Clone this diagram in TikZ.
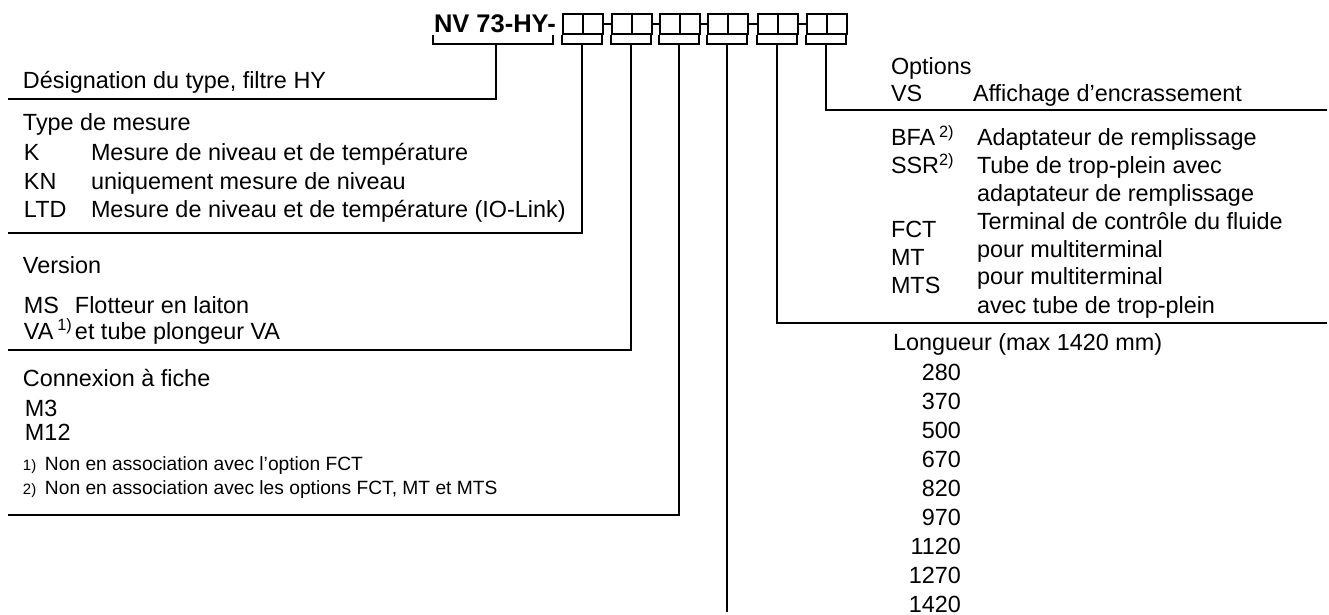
\documentclass[tikz,border=0pt]{standalone}
\usepackage{fontspec}
\setmainfont{Liberation Sans}
\usetikzlibrary{positioning}

\begin{document}
\begin{tikzpicture}[x=0.5pt, y=-0.5pt, line width=1pt,
	txt/.style={anchor=base west, inner sep=0pt, font=\fontsize{11.7}{14}\selectfont},
	num/.style={anchor=base east, inner sep=0pt, font=\fontsize{11.7}{14}\selectfont},
	fn/.style={anchor=base west, inner sep=0pt, font=\fontsize{9.6}{11}\selectfont},
	fnmark/.style={anchor=base west, inner sep=0pt, font=\fontsize{7.5}{8}\selectfont}]
	\useasboundingbox (0,0) rectangle (1329,615);
	% type code
	\node[anchor=base west, inner sep=0pt, font=\bfseries\fontsize{12.75}{15}\selectfont] (nv) at (433,33) {NV 73-HY-};
	\draw (433,35) |- (553,44) -- (553,35);
	\coordinate (b0) at (496,44);
	\foreach \i/\x in {1/562,2/611,3/659,4/707,5/757,6/806} {
		\node[draw, anchor=north west, inner sep=0pt, minimum width=20pt, minimum height=10pt] (f\i) at (\x,13) {};
		\draw (f\i.north) -- (f\i.south);
		\draw (\x,35) |- (\x+40,44) -- (\x+40,35);
		\coordinate (b\i) at (\x+20,44);
	}
	\foreach \a/\b in {1/2,2/3,3/4,4/5,5/6}
		\draw[line width=1.2pt] (f\a.east) -- (f\b.west);
	% leader lines
	\foreach \i/\xe/\ye in {0/8/99,1/8/233,2/8/350,3/8/515,5/1327/323,6/1327/110} {
		\coordinate (e\i) at (\xe,\ye);
		\draw (b\i) |- (e\i);
	}
	\coordinate (e4) at (727,612);
	\draw (b4) -- (e4);
	% left blocks
	\node[txt] (desig) at (22,89) {Désignation du type, filtre HY};
	\node[txt] (mes) at (22,131) {Type de mesure};
	\node[txt] (mK) at (23,161) {K};
	\node[txt] (mKN) at (23,190) {KN};
	\node[txt] (mLTD) at (23,218) {LTD};
	\node[txt] (dK) at (90,161) {Mesure de niveau et de température};
	\node[txt] (dKN) at (90,190) {uniquement mesure de niveau};
	\node[txt] (dLTD) at (90,218) {Mesure de niveau et de température (IO-Link)};
	\node[txt] (ver) at (22,273) {Version};
	\node[txt] (vMS) at (23,313) {MS};
	\node[txt] (vVA) at (23,339) {VA\,\textsuperscript{1)}};
	\node[txt] (dMS) at (74,313) {Flotteur en laiton};
	\node[txt] (dVA) at (74,339) {et tube plongeur VA};
	\node[txt] (con) at (22,386) {Connexion à fiche};
	\node[txt] (cM3) at (24,416) {M3};
	\node[txt] (cM12) at (24,440) {M12};
	\node[fnmark] (n1) at (22,470) {1)};
	\node[fn] (t1) at (44,470) {Non en association avec l'option FCT};
	\node[fnmark] (n2) at (22,494) {2)};
	\node[fn] (t2) at (44,494) {Non en association avec les options FCT, MT et MTS};
	% right blocks
	\node[txt] (opt) at (890,75) {Options};
	\node[txt] (oVS) at (890,102) {VS};
	\node[txt] (dVS) at (972,102) {Affichage d'encrassement};
	\node[txt] (oBFA) at (890,146) {BFA\,\textsuperscript{2)}};
	\node[txt] (oSSR) at (890,174) {SSR\textsuperscript{2)}};
	\node[txt] (oFCT) at (890,237) {FCT};
	\node[txt] (oMT) at (890,265) {MT};
	\node[txt] (oMTS) at (890,293) {MTS};
	\node[txt] (dBFA) at (976,146) {Adaptateur de remplissage};
	\node[txt] (dSSR) at (976,174) {Tube de trop-plein avec};
	\node[txt] (dSSR2) at (976,202) {adaptateur de remplissage};
	\node[txt] (dFCT) at (976,229) {Terminal de contrôle du fluide};
	\node[txt] (dMT) at (976,257) {pour multiterminal};
	\node[txt] (dMTS) at (976,285) {pour multiterminal};
	\node[txt] (dMTS2) at (976,313) {avec tube de trop-plein};
	\node[txt] (len) at (892,350) {Longueur (max 1420 mm)};
	\foreach \l [count=\k from 0] in {280,370,500,670,820,970,1120,1270,1420}
		\node[num] (l\l) at (962,380+29*\k) {\l};
\end{tikzpicture}
\end{document}
